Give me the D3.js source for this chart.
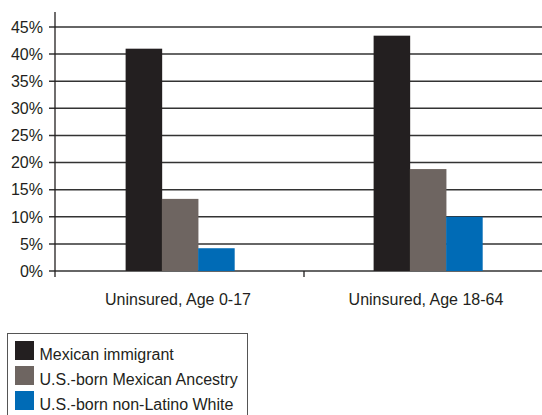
<!DOCTYPE html>
<html>
<head>
<meta charset="utf-8">
<script src="https://cdn.jsdelivr.net/npm/d3@7"></script>
<style>
  html, body { margin: 0; padding: 0; background: #fff; }
  #chart { width: 542px; height: 415px; overflow: hidden; }
  text { font-family: "Liberation Sans", Arial, sans-serif; fill: #231f20; }
</style>
</head>
<body>
<div id="chart"></div>
<script>
const categories = ["Uninsured, Age 0-17", "Uninsured, Age 18-64"];
const seriesNames = ["Mexican immigrant", "U.S.-born Mexican Ancestry", "U.S.-born non-Latino White"];
const seriesColors = ["#231f20", "#6e6561", "#006bb6"];
const mexicanImmigrant = [41.0, 43.4];
const usBornMexican = [13.3, 18.8];
const usBornWhite = [4.2, 10.0];
const yTicks = [0, 5, 10, 15, 20, 25, 30, 35, 40, 45];

function renderChart() {
  const container = d3.select("#chart");
  container.selectAll("*").remove();

  const width = 542, height = 415;
  const svg = container.append("svg").attr("width", width).attr("height", height);

  const rows = categories.map((c, i) => ({
    category: c,
    values: [mexicanImmigrant[i], usBornMexican[i], usBornWhite[i]]
  }));

  const x0 = d3.scaleBand().domain(categories).range([56, 552]);
  const x1 = d3.scaleBand().domain(seriesNames).range([0, x0.bandwidth()]).paddingOuter(1.92);
  const y = d3.scaleLinear().domain([0, 45]).range([271, 27]);

  // gridlines
  svg.append("g")
    .selectAll("line")
    .data(yTicks)
    .enter()
    .append("line")
    .attr("x1", 49)
    .attr("x2", width)
    .attr("y1", d => y(d))
    .attr("y2", d => y(d))
    .attr("stroke", "#333")
    .attr("stroke-width", 1.5);

  // tick labels
  svg.append("g")
    .selectAll("text")
    .data(yTicks)
    .enter()
    .append("text")
    .attr("x", 43)
    .attr("y", d => y(d))
    .attr("dy", "0.36em")
    .attr("text-anchor", "end")
    .style("font-size", "16px")
    .text(d => d + "%");

  // bars
  const groups = svg.append("g")
    .selectAll("g")
    .data(rows)
    .enter()
    .append("g")
    .attr("transform", d => `translate(${x0(d.category)},0)`);

  groups.selectAll("rect")
    .data(d => d.values.map((v, i) => ({ name: seriesNames[i], value: v, color: seriesColors[i] })))
    .enter()
    .append("rect")
    .attr("x", d => x1(d.name))
    .attr("width", x1.bandwidth() + 0.3)
    .attr("y", d => y(d.value))
    .attr("height", d => y(0) - y(d.value))
    .attr("fill", d => d.color);

  // y axis line
  svg.append("line")
    .attr("x1", 55).attr("x2", 55)
    .attr("y1", 12).attr("y2", y(0) + 6)
    .attr("stroke", "#231f20").attr("stroke-width", 1.3);

  // category separator ticks
  svg.append("g")
    .selectAll("line")
    .data(categories.slice(1))
    .enter()
    .append("line")
    .attr("x1", d => x0(d)).attr("x2", d => x0(d))
    .attr("y1", y(0)).attr("y2", y(0) + 6)
    .attr("stroke", "#231f20").attr("stroke-width", 1.3);

  // category labels
  svg.append("g")
    .selectAll("text")
    .data(categories)
    .enter()
    .append("text")
    .attr("x", d => x0(d) + x0.bandwidth() / 2 - 2)
    .attr("y", 305)
    .attr("text-anchor", "middle")
    .style("font-size", "16px")
    .text(d => d);

  // legend
  const legend = svg.append("g");
  legend.append("rect")
    .attr("x", 7.5).attr("y", 333.5)
    .attr("width", 240).attr("height", 95)
    .attr("fill", "none")
    .attr("stroke", "#555")
    .attr("stroke-width", 1);

  const items = legend.selectAll("g.item")
    .data(seriesNames)
    .enter()
    .append("g")
    .attr("class", "item")
    .attr("transform", (d, i) => `translate(15,${341 + i * 25})`);

  items.append("rect")
    .attr("width", 19).attr("height", 19)
    .attr("fill", (d, i) => seriesColors[i]);

  items.append("text")
    .attr("x", 24.5)
    .attr("y", 19)
    .style("font-size", "16px")
    .text(d => d);
}

renderChart();
</script>
</body>
</html>
